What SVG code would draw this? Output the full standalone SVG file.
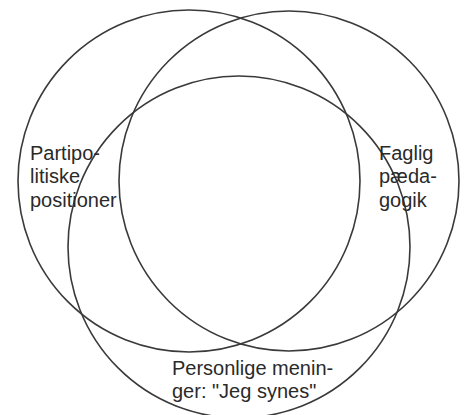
<svg xmlns="http://www.w3.org/2000/svg" width="467" height="415" viewBox="0 0 467 415">
<style>
.c{fill:none;stroke:#3a3a3a;stroke-width:1.6}
.t{font-family:"Liberation Sans",Arial,sans-serif;font-size:20px;fill:#2a2a2a}
</style>
<rect width="467" height="415" fill="#fff"/>
<g id="left"><circle class="c" cx="189" cy="181" r="171"/></g>
<g id="right"><circle class="c" cx="289" cy="181" r="170"/></g>
<g id="bottom"><circle class="c" cx="239" cy="247" r="171"/></g>
<g id="labels">
<g id="label-left"><text class="t" x="30" y="160">Partipo-</text><text class="t" x="30" y="183">litiske</text><text class="t" x="30" y="207">positioner</text></g>
<g id="label-right"><text class="t" x="379" y="160">Faglig</text><text class="t" x="379" y="183">pæda-</text><text class="t" x="379" y="207">gogik</text></g>
<g id="label-bottom"><text class="t" x="172" y="375">Personlige menin-</text><text class="t" x="172" y="398">ger: "Jeg synes"</text></g>
</g>
<g id="connectors"/>
</svg>
